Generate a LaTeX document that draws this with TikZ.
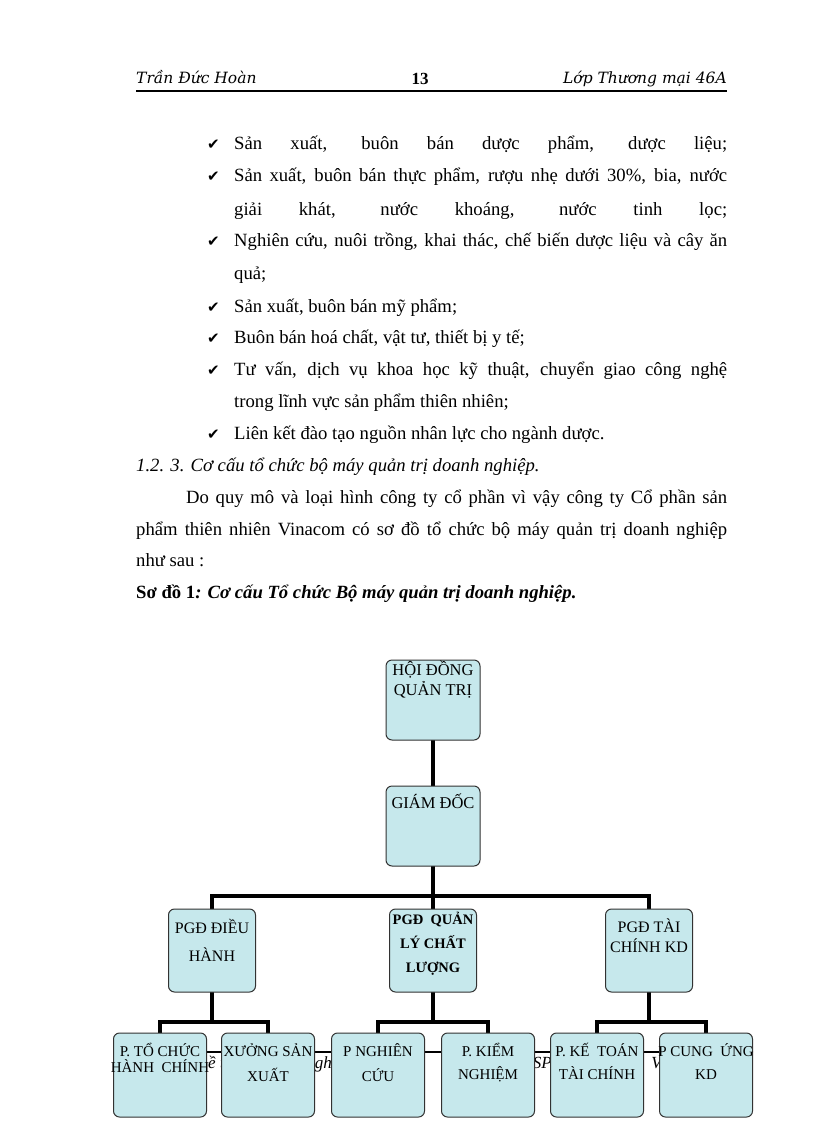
\documentclass[tikz,border=0pt]{standalone}
\usepackage{fontspec}
\setmainfont{Liberation Serif}
\newfontfamily\hdfont{DejaVu Serif}
\newfontfamily\symfont{DejaVu Sans}
\usetikzlibrary{calc}
\pgfdeclarelayer{background}
\pgfsetlayers{background,main}
\definecolor{boxfill}{RGB}{198,232,236}
\definecolor{boxline}{RGB}{50,50,50}
\newcommand{\bodyfont}{\fontsize{18.67}{22}\selectfont}
\newcommand{\chk}{{\symfont\fontsize{15}{18}\selectfont ✔}}
\tikzset{
  body/.style={anchor=base west, inner sep=0pt, font=\bodyfont},
  tick/.style={anchor=base west, inner sep=0pt},
  obox/.style={draw=boxline, fill=boxfill, line width=1pt, rounded corners=6pt, inner sep=0pt, outer sep=0pt},
  toplvl/.style={obox, minimum width=94pt, minimum height=80pt},
  midlvl/.style={obox, minimum width=87pt, minimum height=83pt},
  botlvl/.style={obox, minimum width=93pt, minimum height=84pt},
  btxt/.style={anchor=base, inner sep=0pt, font=\fontsize{15}{16}\selectfont},
  conn/.style={line width=3.4pt, black},
  frag/.style={inner sep=0pt, font=\fontsize{17}{20}\selectfont\itshape}
}
\begin{document}
\begin{tikzpicture}[x=1pt,y=-1pt]
\useasboundingbox (0,0) rectangle (816,1123);
% header
\node[anchor=base west, inner sep=0pt, font=\hdfont\itshape\fontsize{15.5}{18}\selectfont] (hleft) at (136,84) {Trần Đức Hoàn};
\node[anchor=base, inner sep=0pt, font=\bfseries\fontsize{17}{18}\selectfont] (hnum) at (420,85) {13};
\node[anchor=base east, inner sep=0pt, font=\hdfont\itshape\fontsize{15.5}{18}\selectfont] (hright) at (727,84) {Lớp Thương mại 46A};
\draw[line width=2.2pt] (136,91) -- (727,91);
% bullet list
\foreach \y/\t in {150/1,182/2,247/4,312/6,343/7,375/8,439/10}{
  \node[tick] (ck\t) at (207,\y) {\chk};
}
\node[body] (l1) at (234,150) {\makebox[493pt][s]{Sản xuất, buôn bán dược phẩm, dược liệu;}};
\node[body] (l2) at (234,182) {\makebox[493pt][s]{Sản xuất, buôn bán thực phẩm, rượu nhẹ dưới 30\%, bia, nước}};
\node[body] (l3) at (234,215) {\makebox[493pt][s]{giải khát, nước khoáng, nước tinh lọc;}};
\node[body] (l4) at (234,247) {\makebox[493pt][s]{Nghiên cứu, nuôi trồng, khai thác, chế biến dược liệu và cây ăn}};
\node[body] (l5) at (234,279) {quả;};
\node[body] (l6) at (234,312) {Sản xuất, buôn bán mỹ phẩm;};
\node[body] (l7) at (234,343) {Buôn bán hoá chất, vật tư, thiết bị y tế;};
\node[body] (l8) at (234,375) {\makebox[493pt][s]{Tư vấn, dịch vụ khoa học kỹ thuật, chuyển giao công nghệ}};
\node[body] (l9) at (234,407) {trong lĩnh vực sản phẩm thiên nhiên;};
\node[body] (l10) at (234,439) {Liên kết đào tạo nguồn nhân lực cho ngành dược.};
\node[body, font=\bodyfont\itshape] (head) at (136,471) {1.2. 3. Cơ cấu tổ chức bộ máy quản trị doanh nghiệp.};
\node[body] (p1) at (186,503) {\makebox[541pt][s]{Do quy mô và loại hình công ty cổ phần vì vậy công ty Cổ phần sản}};
\node[body] (p2) at (136,535) {\makebox[591pt][s]{phẩm thiên nhiên Vinacom có sơ đồ tổ chức bộ máy quản trị doanh nghiệp}};
\node[body] (p3) at (136,566) {như sau :};
\node[body, font=\bodyfont\bfseries] (cap) at (136,598) {Sơ đồ 1\textit{: Cơ cấu Tổ chức Bộ máy quản trị doanh nghiệp.}};
% org chart boxes
\node[toplvl] (hdqt) at (433,700) {};
\node[toplvl] (gd) at (433,826) {};
\node[midlvl] (pgd1) at (212,950.5) {};
\node[midlvl] (pgd2) at (433,950.5) {};
\node[midlvl] (pgd3) at (649,950.5) {};
\node[botlvl] (b1) at (160,1075) {};
\node[botlvl] (b2) at (268,1075) {};
\node[botlvl] (b3) at (378,1075) {};
\node[botlvl] (b4) at (488,1075) {};
\node[botlvl] (b5) at (597,1075) {};
\node[botlvl] (b6) at (706,1075) {};
% box texts
\node[btxt, font=\fontsize{16.5}{16}\selectfont] (t0a) at (433,675) {HỘI ĐỒNG};
\node[btxt, font=\fontsize{16.5}{16}\selectfont] (t0b) at (433,695) {QUẢN TRỊ};
\node[btxt, font=\fontsize{16.5}{16}\selectfont] (t1) at (433,808) {GIÁM ĐỐC};
\node[btxt, font=\fontsize{16}{16}\selectfont] (t2a) at (212,933) {PGĐ ĐIỀU};
\node[btxt, font=\fontsize{16}{16}\selectfont] (t2b) at (212,961) {HÀNH};
\node[btxt, font=\fontsize{14.5}{16}\bfseries] (t3a) at (433,924) {PGĐ\ \ QUẢN};
\node[btxt, font=\fontsize{14.5}{16}\bfseries] (t3b) at (433,948) {LÝ CHẤT};
\node[btxt, font=\fontsize{14.5}{16}\bfseries] (t3c) at (433,972) {LƯỢNG};
\node[btxt, font=\fontsize{16}{16}\selectfont] (t4a) at (649,932) {PGĐ TÀI};
\node[btxt, font=\fontsize{16}{16}\selectfont] (t4b) at (649,952) {CHÍNH KD};
\node[btxt] (t5a) at (160,1056) {P. TỔ CHỨC};
\node[btxt] (t5b) at (160,1072) {HÀNH\ \ CHÍNH};
\node[btxt] (t6a) at (268,1056) {XƯỞNG SẢN};
\node[btxt] (t6b) at (268,1081) {XUẤT};
\node[btxt] (t7a) at (378,1056) {P NGHIÊN};
\node[btxt] (t7b) at (378,1081) {CỨU};
\node[btxt] (t8a) at (488,1056) {P. KIỂM};
\node[btxt] (t8b) at (488,1079) {NGHIỆM};
\node[btxt] (t9a) at (597,1056) {P. KẾ\ \ TOÁN};
\node[btxt] (t9b) at (597,1079) {TÀI CHÍNH};
\node[btxt] (t10a) at (706,1056) {P CUNG\ \ ỨNG};
\node[btxt] (t10b) at (706,1079) {KD};
% connectors
\begin{pgfonlayer}{background}
\fill[white] (0,0) rectangle (816,1123);
\coordinate (bar) at (433,896);
\coordinate (s1) at (212,1022);
\coordinate (s2) at (433,1022);
\coordinate (s3) at (649,1022);
\coordinate (hl) at (160,1052);
\coordinate (hr) at (706,1052);
\draw[conn] (hdqt.south) -- (gd.north);
\draw[conn] (gd.south) -- (bar);
\draw[conn] (bar) -| (pgd1.north);
\draw[conn] (bar) -| (pgd3.north);
\draw[conn] (bar) -- (pgd2.north);
\draw[conn] (pgd1.south) -- (s1);
\draw[conn] (pgd2.south) -- (s2);
\draw[conn] (pgd3.south) -- (s3);
\draw[conn] (s1) -| (b1.north);
\draw[conn] (s1) -| (b2.north);
\draw[conn] (s2) -| (b3.north);
\draw[conn] (s2) -| (b4.north);
\draw[conn] (s3) -| (b5.north);
\draw[conn] (s3) -| (b6.north);
\draw[line width=2.4pt] (hl) -- (hr);
\node[frag, anchor=base west] (f1) at (208,1068) {ề t};
\node[frag, anchor=base east] (f2) at (332,1068) {gh};
\node[frag, anchor=base east] (f3) at (552,1068) {SP};
\node[frag, anchor=base east] (f4) at (662,1068) {V};
\end{pgfonlayer}
\end{tikzpicture}
\end{document}
